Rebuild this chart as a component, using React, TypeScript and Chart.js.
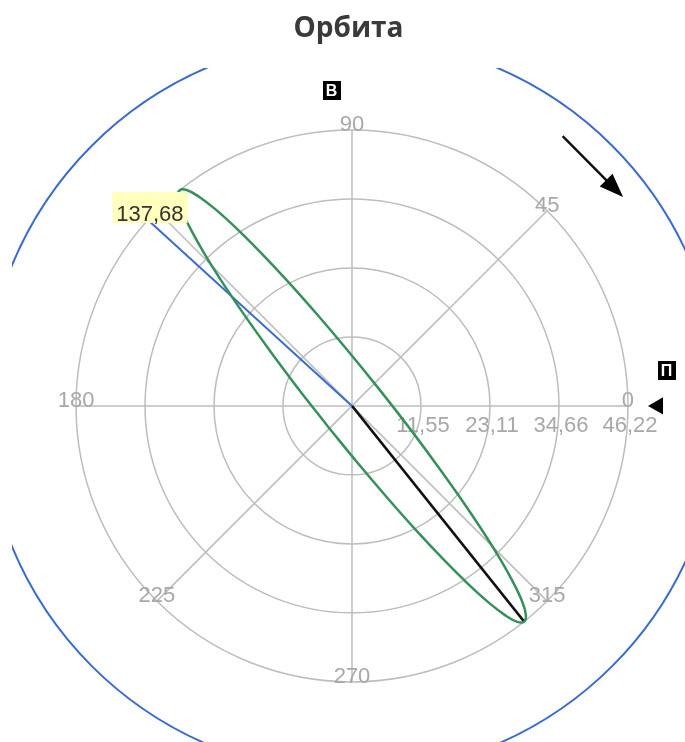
import { useEffect, useRef } from "react";
import { Chart, registerables } from "chart.js";

Chart.register(...registerables);

// ---------------- data ----------------
const TITLE = "Орбита";
const RADIAL_TICKS = [11.55, 23.11, 34.66, 46.22];
const ANGLE_TICKS = [0, 45, 90, 135, 180, 225, 270, 315];

// orbit trace (chart units: x = along 0°, y = along 90°)
const ORBIT_X = [
  -4.14, 0.93, 5.97, 10.83, 15.36, 19.43, 22.9, 25.68, 27.68, 28.84, 29.12, 28.52,
  27.04, 24.75, 21.71, 18.01, 13.75, 9.09, 4.14, -0.93, -5.97, -10.83, -15.36, -19.43,
  -22.9, -25.68, -27.68, -28.84, -29.12, -28.52, -27.04, -24.75, -21.71, -18.01, -13.75,
  -9.09, -4.14,
];
const ORBIT_Y = [
  -3.31, -9.53, -15.46, -20.93, -25.75, -29.8, -32.94, -35.07, -36.15, -36.12, -35.0,
  -32.81, -29.63, -25.54, -20.69, -15.2, -9.25, -3.01, 3.31, 9.53, 15.46, 20.93, 25.75,
  29.8, 32.94, 35.07, 36.15, 36.12, 35.0, 32.81, 29.63, 25.54, 20.69, 15.2, 9.25, 3.01,
  -3.31,
];

// current direction (blue) and apsis direction (black): [angle°, radius]
const CURRENT_DIR = [137.68, 46.22];
const APSIS_DIR = [308.6, 46.22];
// outer blue ring radius
const RING_RADIUS = 61.63;
// letter markers: text, angle°, radius
const MARKER_TEXT = ["В", "П"];
const MARKER_ANGLE = [93.7, 6.4];
const MARKER_RADIUS = [52.9, 53.0];
// pointer triangle [angle°, radius]
const POINTER = [0, 51.25];
// rotation arrow: from / to [angle°, radius]
const ARROW_FROM = [52, 57.3];
const ARROW_TO = [37.6, 57.3];

const GRID = "#bdbdbd";
const TICK_TXT = "#a8a8a8";
const GREEN = "#35905c";
const BLUE = "#3a6cd0";
const FONT = '"Liberation Sans", Arial, sans-serif';

const rad = (d: number) => (d * Math.PI) / 180;
const polarXY = (deg: number, r: number) => ({
  x: r * Math.cos(rad(deg)),
  y: r * Math.sin(rad(deg)),
});
const fmt = (v: number) => v.toFixed(2).replace(".", ",");

const polarPlugin = {
  id: "polarDecor",
  beforeDatasetsDraw(chart: any) {
    const { ctx, chartArea, scales } = chart;
    const xs = scales.x;
    const ys = scales.y;
    const P = (deg: number, r: number) => {
      const q = polarXY(deg, r);
      return { x: xs.getPixelForValue(q.x), y: ys.getPixelForValue(q.y) };
    };
    const cx = xs.getPixelForValue(0);
    const cy = ys.getPixelForValue(0);
    const pr = (r: number) => xs.getPixelForValue(r) - cx;
    const maxR = RADIAL_TICKS[RADIAL_TICKS.length - 1];

    ctx.save();
    ctx.beginPath();
    ctx.rect(chartArea.left, chartArea.top, chartArea.right - chartArea.left, chartArea.bottom - chartArea.top);
    ctx.clip();

    // blue ring
    ctx.beginPath();
    ctx.arc(cx, cy, pr(RING_RADIUS), 0, Math.PI * 2);
    ctx.strokeStyle = BLUE;
    ctx.lineWidth = 2;
    ctx.stroke();

    // grid circles
    ctx.strokeStyle = GRID;
    ctx.lineWidth = 1.5;
    RADIAL_TICKS.forEach((r) => {
      ctx.beginPath();
      ctx.arc(cx, cy, pr(r), 0, Math.PI * 2);
      ctx.stroke();
    });
    // angle lines
    ANGLE_TICKS.forEach((a) => {
      const p = P(a, maxR);
      ctx.beginPath();
      ctx.moveTo(cx, cy);
      ctx.lineTo(p.x, p.y);
      ctx.stroke();
    });

    // angle labels
    ctx.fillStyle = TICK_TXT;
    ctx.font = `22px ${FONT}`;
    ctx.textAlign = "center";
    ctx.textBaseline = "alphabetic";
    ANGLE_TICKS.forEach((a) => {
      const p = P(a, maxR);
      ctx.fillText(String(a), p.x, p.y + 1);
    });
    // radial labels
    RADIAL_TICKS.forEach((r) => {
      const p = P(0, r);
      ctx.fillText(fmt(r), p.x + 2, p.y + 26);
    });
    ctx.restore();
  },
  afterDatasetsDraw(chart: any) {
    const { ctx, scales } = chart;
    const xs = scales.x;
    const ys = scales.y;
    const P = (deg: number, r: number) => {
      const q = polarXY(deg, r);
      return { x: xs.getPixelForValue(q.x), y: ys.getPixelForValue(q.y) };
    };
    ctx.save();

    // value label at end of blue line
    const e = P(CURRENT_DIR[0], CURRENT_DIR[1]);
    ctx.font = `22px ${FONT}`;
    const label = fmt(CURRENT_DIR[0]);
    const tw = ctx.measureText(label).width;
    const bw = tw + 8;
    const bx = e.x + 2 - bw / 2;
    ctx.fillStyle = "#ffffbe";
    ctx.fillRect(bx, e.y - 28, bw, 31);
    ctx.fillStyle = "#333333";
    ctx.textAlign = "center";
    ctx.textBaseline = "alphabetic";
    ctx.fillText(label, e.x + 2, e.y + 1);

    // letter markers
    ctx.font = `bold 16px ${FONT}`;
    ctx.textBaseline = "middle";
    MARKER_TEXT.forEach((t, i) => {
      const p = P(MARKER_ANGLE[i], MARKER_RADIUS[i]);
      const w = ctx.measureText(t).width + 6;
      const h = 19;
      ctx.fillStyle = "#000";
      ctx.fillRect(Math.round(p.x - w / 2), Math.round(p.y - h / 2), Math.round(w), h);
      ctx.fillStyle = "#fff";
      ctx.fillText(t, p.x, p.y + 1);
    });

    // rotation arrow
    const a0 = P(ARROW_FROM[0], ARROW_FROM[1]);
    const a1 = P(ARROW_TO[0], ARROW_TO[1]);
    const ang = Math.atan2(a1.y - a0.y, a1.x - a0.x);
    const hl = 24;
    const hw = 9;
    const bxp = a1.x - hl * Math.cos(ang);
    const byp = a1.y - hl * Math.sin(ang);
    ctx.strokeStyle = "#111";
    ctx.lineWidth = 2.5;
    ctx.beginPath();
    ctx.moveTo(a0.x, a0.y);
    ctx.lineTo(bxp + 4 * Math.cos(ang), byp + 4 * Math.sin(ang));
    ctx.stroke();
    ctx.fillStyle = "#000";
    ctx.beginPath();
    ctx.moveTo(a1.x, a1.y);
    ctx.lineTo(bxp - hw * Math.sin(ang), byp + hw * Math.cos(ang));
    ctx.lineTo(bxp + hw * Math.sin(ang), byp - hw * Math.cos(ang));
    ctx.closePath();
    ctx.fill();

    ctx.restore();
  },
};

export default function App() {
  const ref = useRef<HTMLCanvasElement | null>(null);

  useEffect(() => {
    if (!ref.current) return;
    const orbit = ORBIT_X.map((x, i) => ({ x, y: ORBIT_Y[i] }));
    const seg = (d: number[]) => [{ x: 0, y: 0 }, polarXY(d[0], d[1])];
    const chart = new Chart(ref.current, {
      type: "scatter",
      data: {
        datasets: [
          {
            label: "Орбита",
            data: orbit,
            showLine: true,
            borderColor: GREEN,
            borderWidth: 2.5,
            pointRadius: 0,
            tension: 0.4,
            fill: false,
          },
          {
            label: "Текущее",
            data: seg(CURRENT_DIR),
            showLine: true,
            borderColor: BLUE,
            borderWidth: 2,
            pointRadius: 0,
          },
          {
            label: "Апсида",
            data: seg(APSIS_DIR),
            showLine: true,
            borderColor: "#111",
            borderWidth: 2.5,
            pointRadius: 0,
          },
          {
            label: "Указатель",
            data: [polarXY(POINTER[0], POINTER[1])],
            showLine: false,
            pointStyle: "triangle",
            rotation: 270,
            pointRadius: 10,
            backgroundColor: "#000",
            borderColor: "#000",
            borderWidth: 0,
            clip: false,
          },
        ],
      },
      options: {
        animation: false,
        responsive: false,
        devicePixelRatio: 1,
        layout: { autoPadding: false, padding: { left: 12, right: 0, top: 0, bottom: 0 } },
        scales: {
          x: { type: "linear", min: -56.94, max: 55.77, display: false },
          y: { type: "linear", min: -56.27, max: 56.57, display: false },
        },
        plugins: {
          legend: { display: false },
          tooltip: { enabled: false },
          title: {
            display: true,
            text: TITLE,
            color: "#3a3a3a",
            font: { family: '"Open Sans", sans-serif', size: 28, weight: "bold", lineHeight: 1.2 },
            padding: { top: 12, bottom: 22.4 },
          },
        },
      },
      plugins: [polarPlugin],
    });
    return () => chart.destroy();
  }, []);

  return (
    <div style={{ position: "fixed", left: 0, top: 0, width: 685, height: 742, background: "#fff" }}>
      <canvas ref={ref} width={685} height={742} style={{ width: 685, height: 742, display: "block" }} />
    </div>
  );
}
